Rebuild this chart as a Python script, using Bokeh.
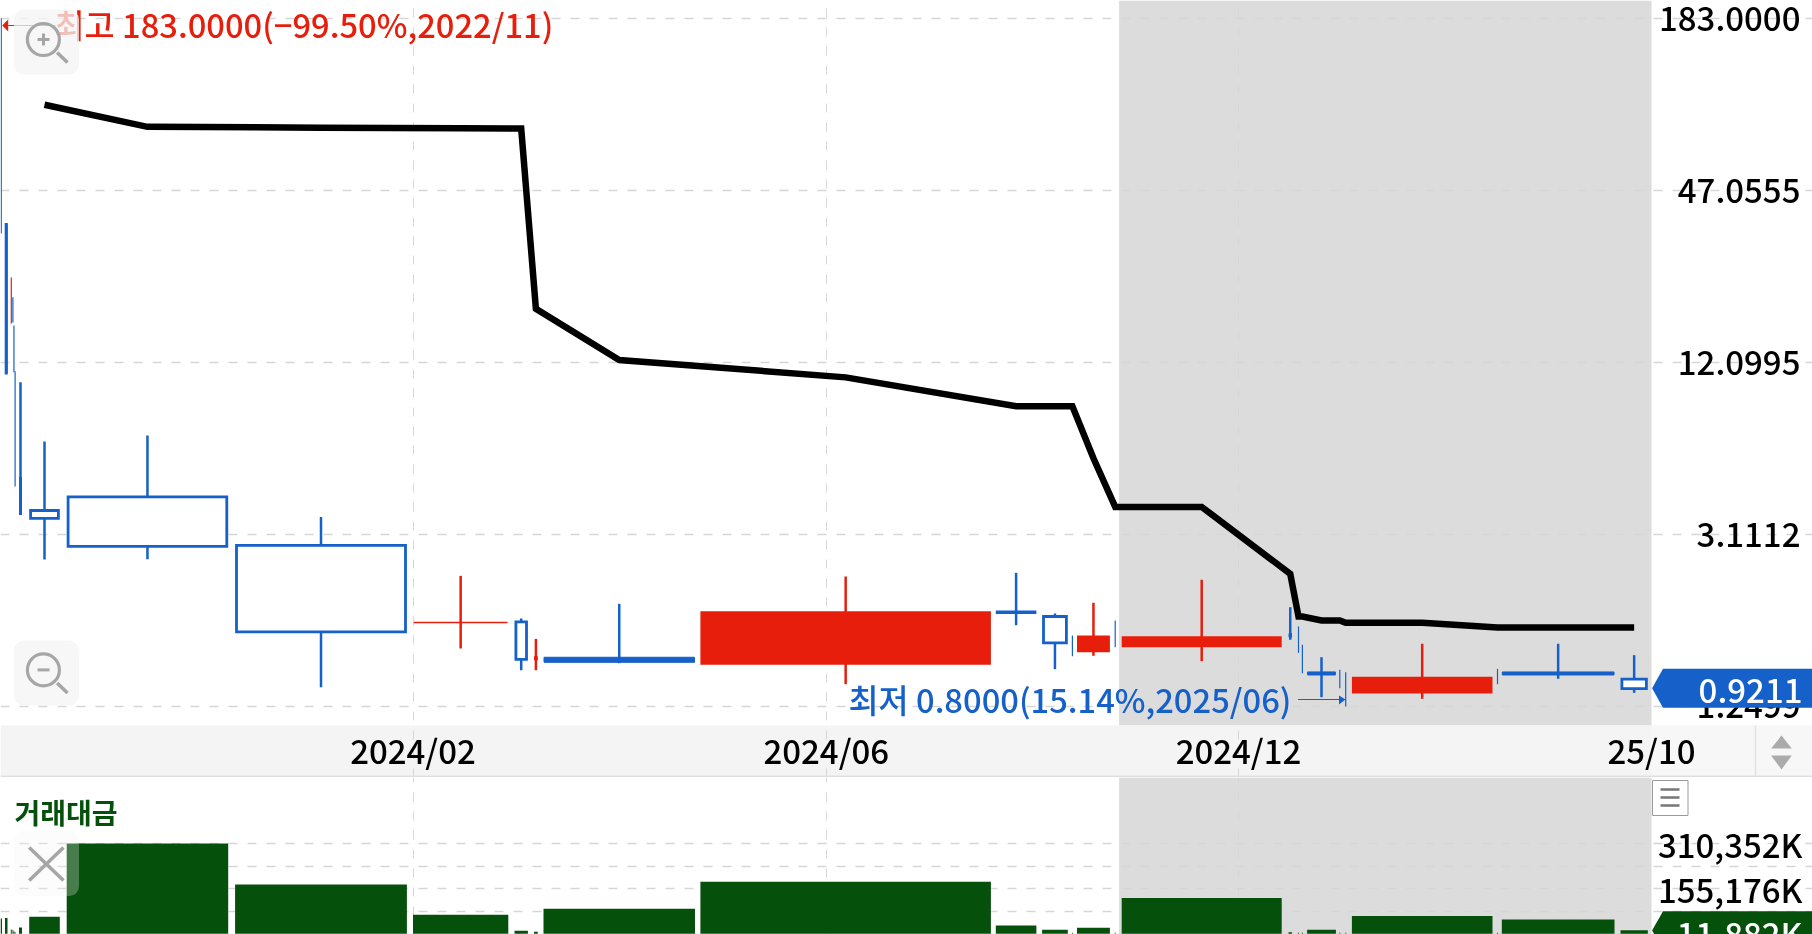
from bokeh.plotting import figure
from bokeh.layouts import column
from bokeh.models import Range1d, FixedTicker, LinearScale
from bokeh.core.properties import value
from bokeh.embed import file_html
from bokeh.resources import INLINE

FONT = "Noto Sans CJK KR Medium"
BLUE = "#1560c9"
RED = "#e61e0b"
GREEN = "#05500a"
SHADE = "#dcdcdc"
GRID = "#d6d6d6"
ICON = "#a6a6a6"

# equivolume candles: each candle spans cum_start..cum_end on the x axis
cum_start = [0.0, 4.5, 10.3, 12.0, 12.9, 14.2, 18.5,
             28.7, 66.2, 234.6, 412.5, 514.0, 533.5, 543.0, 699.9, 995.3, 1041.6, 1071.4, 1076.5,
             1114.2, 1121.2, 1288.0, 1297.5, 1301.4, 1306.6, 1338.8, 1344.7, 1351.4, 1496.5, 1501.3, 1620.0]
cum_end = [1.5, 7.0, 11.3, 12.8, 14.0, 15.0, 21.5,
           59.3, 227.7, 406.4, 507.8, 527.4, 537.3, 694.5, 990.4, 1035.9, 1067.3, 1072.4, 1109.4,
           1115.2, 1281.2, 1291.5, 1298.5, 1302.4, 1335.4, 1339.8, 1345.7, 1492.0, 1497.5, 1614.0, 1647.3]
price_open = [153.8, 35.97, 16.47, 20.26, 16.21, 11.3, 4.842,
              3.760, 4.187, 2.857, 1.553, 1.560, 1.155, 1.180, 1.124, 1.698, 1.628, 1.295, 1.242,
              1.424, 1.292, 1.424, 1.347, 1.150, 1.051, 0.982, 0.908, 0.896, 1.014, 1.051, 0.993]
price_close = [88.5, 11.12, 23.67, 16.60, 11.21, 4.546, 3.671,
               3.536, 2.834, 1.443, 1.553, 1.160, 1.187, 1.134, 1.680, 1.671, 1.323, 1.295, 1.387,
               1.424, 1.379, 1.383, 1.347, 1.150, 1.026, 0.982, 0.908, 1.000, 1.014, 1.026, 0.9211]
price_high = [183.0, 35.97, 23.67, 20.26, 16.21, 11.3, 10.36,
              6.489, 6.799, 3.572, 2.244, 1.603, 1.364, 1.800, 2.233, 2.299, 1.667, 1.402, 1.815,
              1.578, 2.176, 1.752, 1.505, 1.302, 1.181, 1.069, 1.049, 1.313, 1.077, 1.313, 1.200]
price_low = [33.5, 11.12, 16.47, 16.60, 11.21, 4.546, 3.671,
             2.554, 2.560, 0.931, 1.265, 1.065, 1.065, 1.126, 0.954, 1.520, 1.074, 1.190, 1.194,
             1.278, 1.144, 1.355, 1.222, 1.041, 0.861, 0.924, 0.800, 0.850, 0.954, 0.996, 0.891]
trade_value = [52650, 53700, 14500, 12800, 7600, 5900, 21500,
               58500, 310352, 169400, 65500, 10000, 6600, 85600, 178400, 28400, 13500, 3000, 20400,
               3000, 123000, 5200, 3500, 3500, 13500, 3500, 3500, 60600, 3000, 49200, 11882]
ma_line = [None, None, None, None, None, None, None,
           92.58, 77.8, 77.3, 77.0, 76.8, 18.5, 12.34, 10.76, 8.565, 8.565, 8.565, 5.681,
           3.869, 3.869, 2.28, 1.628, 1.628, 1.578, 1.578, 1.549, 1.549, 1.493, 1.493, 1.493]

price_ticks = [183.0, 47.0555, 12.0995, 3.1112, 0.8]
price_tick_labels = ["183.0000", "47.0555", "12.0995", "3.1112", "1.2499"]
date_ticks = [412.5, 825.8, 1238.0, 1651.0]
date_labels = ["2024/02", "2024/06", "2024/12", "25/10"]
value_ticks = [310352, 155176]
value_tick_labels = ["310,352K", "155,176K"]
value_grid = [77588, 155176, 232764, 310352]

W, H1, H2 = 1812, 777, 157
PANEL_BOTTOM = 725
RIGHT = 1651
SHADE_START = 1118.6

# log price scale: 172 px for each factor of 183/47.0555, 183 lying 18 px below the top
from math import exp, log
per_px = log(183.0 / 47.0555) / 172.0
p_at = lambda px: 183.0 * exp(-per_px * (px - 18))

p = figure(width=W, height=H1, output_backend="svg", toolbar_location=None,
           x_range=Range1d(0, W), y_range=Range1d(p_at(H1), p_at(0)), y_axis_type="log",
           min_border=0, outline_line_color=None, background_fill_color="white")
p.extra_y_ranges = {"px": Range1d(H1, 0)}
p.extra_y_scales = {"px": LinearScale()}

v = figure(width=W, height=H2, output_backend="svg", toolbar_location=None,
           x_range=p.x_range, y_range=Range1d(-2770, 537600),
           min_border=0, outline_line_color=None, background_fill_color="white")
v.extra_y_ranges = {"px": Range1d(H1 + H2, H1)}
v.extra_y_scales = {"px": LinearScale()}


def style_axis(ax, ticks, labels):
    ax.ticker = FixedTicker(ticks=list(ticks))
    ax.major_label_overrides = dict(zip(ticks, labels))
    ax.axis_line_color = None
    ax.major_tick_line_color = None
    ax.minor_tick_line_color = None
    ax.major_label_text_font = FONT
    ax.major_label_text_font_size = "33px"
    ax.major_label_text_color = "#000000"


# axes live inside the frame so that tags can lie over them
style_axis(p.yaxis[0], price_ticks, price_tick_labels)
p.yaxis[0].fixed_location = 1806
p.yaxis[0].major_label_standoff = 0
style_axis(p.xaxis[0], date_ticks, date_labels)
p.xaxis[0].fixed_location = p_at(713)
p.xaxis[0].major_label_standoff = 6

style_axis(v.yaxis[0], value_ticks, value_tick_labels)
v.yaxis[0].fixed_location = 1808
v.yaxis[0].major_label_standoff = 0
v.xaxis.visible = False

for g, tick, bounds, wd in ((p.ygrid[0], price_ticks, (0, RIGHT), 1.5),
                            (p.xgrid[0], date_ticks[:3], (p_at(PANEL_BOTTOM), p_at(0)), 1),
                            (v.ygrid[0], value_grid, (0, RIGHT), 1.5),
                            (v.xgrid[0], date_ticks[:3], (-2770, 537600), 1)):
    g.ticker = FixedTicker(ticks=list(tick))
    g.bounds = bounds
    g.grid_line_color = GRID
    g.grid_line_width = wd
    g.grid_line_dash = "9 10"

# shaded period
p.quad(left=[SHADE_START], right=[RIGHT], top=[0], bottom=[PANEL_BOTTOM], y_range_name="px",
       fill_color=SHADE, line_color=None, level="image")
v.quad(left=[SHADE_START], right=[RIGHT], top=[H1], bottom=[H1 + H2], y_range_name="px",
       fill_color=SHADE, line_color=None, level="image")
# date strip
p.quad(left=[0], right=[W], top=[PANEL_BOTTOM], bottom=[H1 - 2], y_range_name="px",
       fill_color="#f4f4f4", line_color=None, level="image")
p.quad(left=[0], right=[W], top=[H1 - 2], bottom=[H1], y_range_name="px",
       fill_color="#dedede", line_color=None)
p.quad(left=[RIGHT], right=[W], top=[PANEL_BOTTOM], bottom=[H1 - 2], y_range_name="px",
       fill_color="#f7f7f7", line_color=None, level="image")
p.segment(x0=[1755], x1=[1755], y0=[PANEL_BOTTOM], y1=[H1 - 2], y_range_name="px",
          line_color="#e2e2e2", line_width=1.5)
p.patch(x=[1770.6, 1791.3, 1781], y=[748, 748, 735], y_range_name="px", fill_color="#ababab", line_color=None)
p.patch(x=[1770.6, 1791.3, 1781], y=[755, 755, 769], y_range_name="px", fill_color="#ababab", line_color=None)

# candles
mid = [(a + b) / 2 for a, b in zip(cum_start, cum_end)]
width = [b - a for a, b in zip(cum_start, cum_end)]
rising = [c > o for o, c in zip(price_open, price_close)]
flat = [c == o for o, c in zip(price_open, price_close)]
colors = [RED if r or (f and i == 10) else BLUE
          for i, (r, f) in enumerate(zip(rising, flat))]
wick_w = [2.5 if w >= 2 else 1.2 for w in width]
p.segment(x0=mid, x1=mid, y0=price_low, y1=price_high, line_color=colors, line_width=wick_w)
ratio = [max(o, c) / min(o, c) for o, c in zip(price_open, price_close)]
body_lw = [2.8 if r > 1.06 else 1.5 if r < 1.02 else 1 for r in ratio]
idx = [i for i, w in enumerate(width) if w >= 2]
p.quad(left=[cum_start[i] + body_lw[i] / 2 for i in idx],
       right=[cum_end[i] - body_lw[i] / 2 for i in idx],
       top=[max(price_open[i], price_close[i]) for i in idx],
       bottom=[min(price_open[i], price_close[i]) for i in idx],
       fill_color=[colors[i] if (colors[i] == RED or ratio[i] <= 1.06) else "white" for i in idx],
       line_color=[colors[i] for i in idx],
       line_width=[body_lw[i] for i in idx], line_join="miter")

# moving average
ma_x = [m for m, a in zip(mid, ma_line) if a is not None]
ma_y = [a for a in ma_line if a is not None]
p.line(ma_x, ma_y, line_color="#000000", line_width=6.5, line_join="miter")

# trade value bars
v.quad(left=cum_start, right=cum_end, bottom=0, top=trade_value, fill_color=GREEN, line_color=None)

# high / low annotations
p.segment(x0=[7.7], x1=[55], y0=[25], y1=[25], y_range_name="px", line_color=RED, line_width=1)
p.patch(x=[1.7, 7.7, 7.7], y=[25, 19, 31], y_range_name="px", fill_color=RED, line_color=None)
p.text(x=[54], y=[23], text=["최고 183.0000(−99.50%,2022/11)"], y_range_name="px",
       text_font=value(FONT), text_font_size="32.7px", text_color=RED,
       text_align="left", text_baseline="middle")
p.text(x=[848], y=[698], text=["최저 0.8000(15.14%,2025/06)"], y_range_name="px",
       text_font=value(FONT), text_font_size="32.7px", text_color=BLUE,
       text_align="left", text_baseline="middle")
p.segment(x0=[1297.6], x1=[1340], y0=[699], y1=[699], y_range_name="px", line_color=BLUE, line_width=1)
p.patch(x=[1345, 1338.5, 1338.5], y=[699, 695, 704], y_range_name="px", fill_color=BLUE, line_color=None)

# current value tags
p.patch(x=[1651.6, 1662.5, W, W, 1662.5], y=[687.7, 668.3, 668.3, 707.3, 707.3], y_range_name="px",
        fill_color=BLUE, line_color=None, level="overlay")
p.text(x=[1802], y=[690], text=["0.9211"], y_range_name="px", text_font=value(FONT),
       text_font_size="33px", text_color="white", text_align="right", text_baseline="middle", level="overlay")
v.patch(x=[1651.6, 1662.5, W, W, 1662.5], y=[930, 910.7, 910.7, 949.3, 949.3], y_range_name="px",
        fill_color=GREEN, line_color=None, level="overlay")
v.text(x=[1802], y=[932], text=["11,882K"], y_range_name="px", text_font=value(FONT),
       text_font_size="33px", text_color="white", text_align="right", text_baseline="middle", level="overlay")

v.text(x=[14], y=[811], text=["거래대금"], y_range_name="px", text_font=value("Noto Sans CJK KR"),
       text_font_size="28px", text_font_style="bold", text_color=GREEN,
       text_align="left", text_baseline="middle")

# zoom buttons
for cy, ty in ((39, 9), (669.4, 640)):
    p.quad(left=[13.4], right=[78.5], top=[ty], bottom=[ty + 65], y_range_name="px",
           fill_color="#f4f4f4", fill_alpha=0.75, line_color=None, border_radius=10, level="overlay")
    p.scatter(x=[42.9], y=[cy], size=32, marker="circle", y_range_name="px", fill_color=None,
              line_color=ICON, line_width=3.2, level="overlay")
    p.segment(x0=[56.6], x1=[67], y0=[cy + 13], y1=[cy + 23], y_range_name="px",
              line_color=ICON, line_width=3.5, level="overlay")
    p.segment(x0=[37], x1=[49], y0=[cy], y1=[cy], y_range_name="px",
              line_color=ICON, line_width=3, level="overlay")
p.segment(x0=[43], x1=[43], y0=[33], y1=[45], y_range_name="px",
          line_color=ICON, line_width=3, level="overlay")

# close button
v.quad(left=[13.4], right=[78.5], top=[830], bottom=[895.6], y_range_name="px",
       fill_color="#f4f4f4", fill_alpha=0.28, line_color=None, border_radius=10, level="overlay")
v.segment(x0=[28.7, 28.7], x1=[63, 63], y0=[847, 880], y1=[880, 847], y_range_name="px",
          line_color=ICON, line_width=3.5, level="overlay")

# menu button
v.quad(left=[1652], right=[1687.5], top=[780], bottom=[815], y_range_name="px",
       fill_color="white", line_color="#9a9a9a", line_width=1, level="overlay")
v.segment(x0=[1660, 1660, 1660], x1=[1679, 1679, 1679], y0=[789, 797, 805], y1=[789, 797, 805],
          y_range_name="px", line_color="#777777", line_width=2.5, level="overlay")

page = column(p, v, spacing=0, styles={"position": "fixed", "left": "0px", "top": "0px"})
open("out.html", "w").write(file_html(page, INLINE))
